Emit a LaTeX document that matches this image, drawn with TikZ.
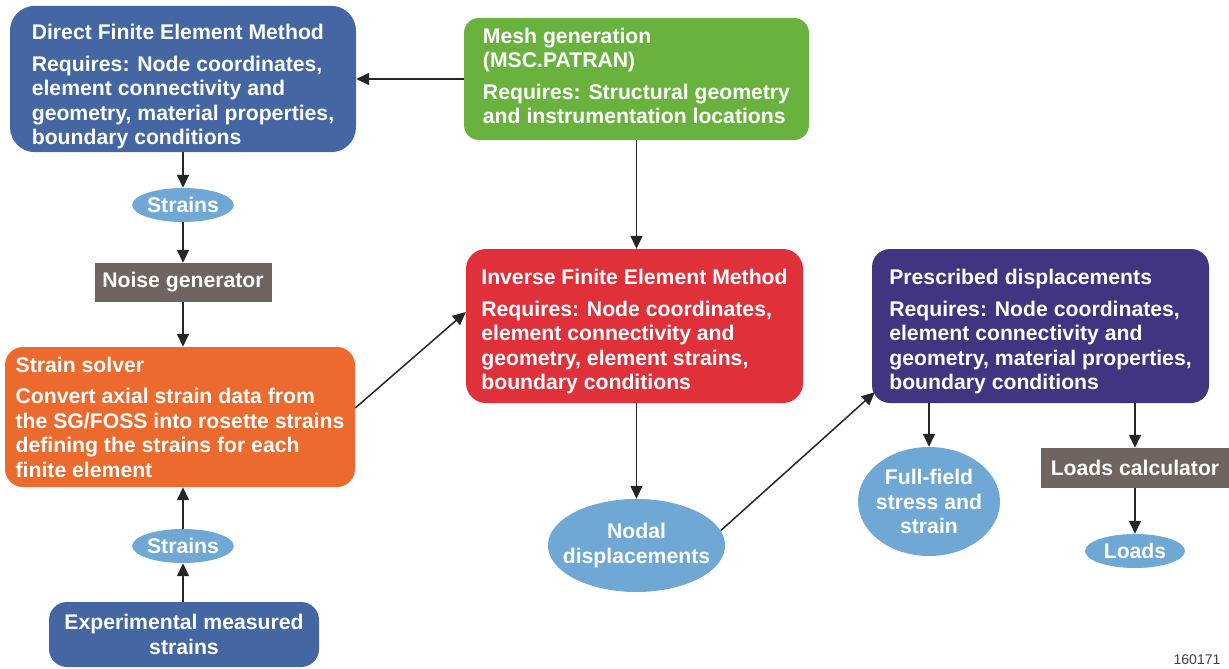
\documentclass[tikz,border=0pt]{standalone}
\usepackage{fontspec}
\setmainfont{Liberation Sans}
\usetikzlibrary{shapes.geometric,arrows.meta}
\definecolor{dfemblue}{HTML}{4466A2}
\definecolor{meshgreen}{HTML}{6AB23E}
\definecolor{ifemred}{HTML}{E0313A}
\definecolor{solverorange}{HTML}{EC6A2D}
\definecolor{prescpurple}{HTML}{3F3580}
\definecolor{tagbrown}{HTML}{6F6560}
\definecolor{ellblue}{HTML}{6FA8D4}
% invisible struts that push a box's text down or up
\newcommand{\topgap}[1]{\rule{0pt}{#1}}
\newcommand{\botgap}[1]{\rule[-#1]{0pt}{#1}}
\begin{document}
\begin{tikzpicture}[x=1pt, y=-1pt,
  every node/.style={font=\fontsize{21.2}{24.5}\selectfont\bfseries, text=white},
  flowbox/.style={rounded corners=18pt, align=left, inner sep=3pt},
  tagbox/.style={fill=tagbrown, inner sep=2pt},
  dataell/.style={ellipse, fill=ellblue, inner sep=0pt, align=center},
  link/.style={-{Triangle[length=13pt,width=12pt]}, line width=1.5pt, draw=black!85}]
  \useasboundingbox (0,0) rectangle (1229,669);
  % boxes
  \node[flowbox, fill=dfemblue, rounded corners=25pt, minimum width=346pt, minimum height=146pt] (dfem) at (183,79)
    {\topgap{31pt}Direct Finite Element Method\\[7pt]Requires: Node coordinates,\\element connectivity and\\geometry, material properties,\\boundary conditions};
  \node[flowbox, fill=meshgreen, rounded corners=15pt, minimum width=345pt, minimum height=122pt] (mesh) at (636.5,79)
    {Mesh generation\\(MSC.PATRAN)\\[7pt]Requires: Structural geometry\\and instrumentation locations\botgap{6pt}};
  \node[dataell, minimum width=100pt, minimum height=34pt] (strainsup) at (183,205) {Strains};
  \node[tagbox, minimum width=177pt, minimum height=39pt] (noise) at (183,282.5) {Noise generator};
  \node[flowbox, fill=solverorange, minimum width=350pt, minimum height=140pt] (solver) at (180,417)
    {Strain solver\\[7pt]Convert axial strain data from\\the SG/FOSS into rosette strains\\defining the strains for each\\finite element};
  \node[dataell, minimum width=100pt, minimum height=34pt] (strainsdown) at (183,546) {Strains};
  \node[flowbox, fill=dfemblue, align=center, minimum width=270pt, minimum height=65pt] (expt) at (184,634.5)
    {Experimental measured\\strains};
  \node[flowbox, fill=ifemred, rounded corners=20pt, minimum width=337pt, minimum height=154pt] (ifem) at (634.5,326)
    {\topgap{27pt}Inverse Finite Element Method\\[7pt]Requires: Node coordinates,\\element connectivity and\\geometry, element strains,\\boundary conditions};
  \node[dataell, inner xsep=-11pt, minimum width=177pt, minimum height=93pt] (nodal) at (636.5,545.5)
    {Nodal\\displacements};
  \node[flowbox, fill=prescpurple, minimum width=337pt, minimum height=154pt] (presc) at (1040.5,326)
    {\topgap{27pt}Prescribed displacements\\[7pt]Requires: Node coordinates,\\element connectivity and\\geometry, material properties,\\boundary conditions};
  \node[dataell, inner xsep=-3pt, minimum width=142pt, minimum height=109pt] (fullfield) at (929,501.5)
    {Full-field\\stress and\\strain};
  \node[tagbox, minimum width=188pt, minimum height=40pt] (loadcalc) at (1135,468) {Loads calculator};
  \node[dataell, minimum width=100pt, minimum height=34pt] (loads) at (1135,551) {Loads};
  \node[font=\fontsize{14}{16}\selectfont, text=black!75] (figid) at (1197,660) {160171};
  % connectors
  \draw[link] (mesh.west) -- (dfem.east);
  \draw[link] (dfem.south) -- (strainsup.north);
  \draw[link] (strainsup.south) -- (noise.north);
  \draw[link] (noise.south) -- (noise.south |- solver.north);
  \draw[link] (strainsdown.north) -- (strainsdown.north |- solver.south);
  \draw[link] (strainsdown.south |- expt.north) -- (strainsdown.south);
  \draw[link] ([yshift=9pt]solver.east) -- ([yshift=14pt]ifem.west);
  \draw[link] (mesh.south) -- (mesh.south |- ifem.north);
  \draw[link] (nodal.north |- ifem.south) -- (nodal.north);
  \draw[link] (nodal.10) -- ([xshift=3pt,yshift=11pt]presc.south west);
  \draw[link] (fullfield.north |- presc.south) -- (fullfield.north);
  \draw[link] (loadcalc.north |- presc.south) -- (loadcalc.north);
  \draw[link] (loadcalc.south) -- (loads.north);
\end{tikzpicture}
\end{document}
